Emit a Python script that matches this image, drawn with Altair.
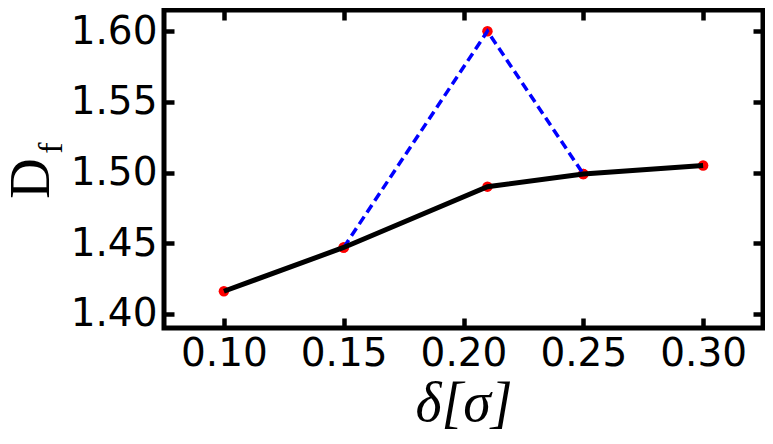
import altair as alt
import pandas as pd

# ---- data ----
x_vals = [0.10, 0.15, 0.21, 0.25, 0.30]
black_y = [1.416, 1.447, 1.490, 1.499, 1.505]
blue_x = [0.15, 0.21, 0.25]
blue_y = [1.447, 1.600, 1.499]
x_ticks = [0.10, 0.15, 0.20, 0.25, 0.30]
y_ticks = [1.40, 1.45, 1.50, 1.55, 1.60]
x_lim = [0.075, 0.325]
y_lim = [1.39, 1.615]

W, H = 599, 318
TICK = 10

black_df = pd.DataFrame({"x": x_vals, "y": black_y})
blue_df = pd.DataFrame({"x": blue_x, "y": blue_y})
pts_df = pd.concat([black_df, blue_df], ignore_index=True)
frame_df = pd.DataFrame({"k": [0]})

xs = alt.Scale(domain=x_lim, nice=False, zero=False)
ys = alt.Scale(domain=y_lim, nice=False, zero=False)

# inward ticks: each axis is pulled TICK px into the plot and its ticks reach back out to the frame
tick_kw = dict(grid=False, domain=False, ticks=True, tickSize=TICK, tickWidth=4.5,
               tickColor="black", offset=-TICK)

x_bottom = alt.Axis(
    values=x_ticks, format=".2f", orient="bottom", **tick_kw,
    labelFont="DejaVu Sans", labelFontSize=39, labelColor="black", labelPadding=6,
    title="δ[σ]", titleFont="Liberation Serif", titleFontStyle="italic",
    titleFontWeight="normal", titleFontSize=56, titleColor="black",
    titleX=W / 2, titleY=92 + TICK, titleAlign="center", titleBaseline="alphabetic",
)
y_left = alt.Axis(
    values=y_ticks, format=".2f", orient="left", **tick_kw,
    labelFont="DejaVu Sans", labelFontSize=39, labelColor="black", labelPadding=7,
    title="D", titleFont="Liberation Serif", titleFontWeight="normal",
    titleFontSize=56, titleColor="black", titleAngle=270,
    titleX=-116 - TICK, titleY=168, titleAlign="center", titleBaseline="alphabetic",
)
x_top = alt.Axis(values=x_ticks, orient="top", labels=False, title="", **tick_kw)
y_right = alt.Axis(values=y_ticks, orient="right", labels=False, title="", **tick_kw)

points = alt.Chart(pts_df).mark_circle(color="#ff0000", opacity=1, size=110).encode(
    x=alt.X("x:Q", scale=xs, axis=x_bottom),
    y=alt.Y("y:Q", scale=ys, axis=y_left),
)
blue = alt.Chart(blue_df).mark_line(color="#0000ff", strokeWidth=3.5, strokeDash=[9, 5]).encode(
    x=alt.X("x:Q", scale=xs, axis=x_top),
    y=alt.Y("y:Q", scale=ys, axis=y_right),
)
black = alt.Chart(black_df).mark_line(color="black", strokeWidth=5).encode(
    x=alt.X("x:Q", scale=xs, axis=None),
    y=alt.Y("y:Q", scale=ys, axis=None),
)

frame = alt.Chart(frame_df).mark_rect(fillOpacity=0, stroke="black", strokeWidth=5).encode(
    x=alt.value(0), x2=alt.value(W), y=alt.value(0), y2=alt.value(H)
)

sub_df = pd.DataFrame({"t": ["f"]})
sub = alt.Chart(sub_df).mark_text(
    font="Liberation Serif", fontSize=34, color="black", angle=270,
    align="center", baseline="alphabetic",
).encode(text="t:N", x=alt.value(-102), y=alt.value(138))

chart = (
    alt.layer(points, blue, black, frame, sub)
    .resolve_axis(x="independent", y="independent")
    .properties(
        width=W, height=H,
        autosize=alt.AutoSizeParams(type="none"),
        padding={"left": 156, "top": 2, "right": 2, "bottom": 108},
    )
    .configure_view(strokeWidth=0)
)

chart.save("out.html", embed_options={"renderer": "svg", "actions": False})
